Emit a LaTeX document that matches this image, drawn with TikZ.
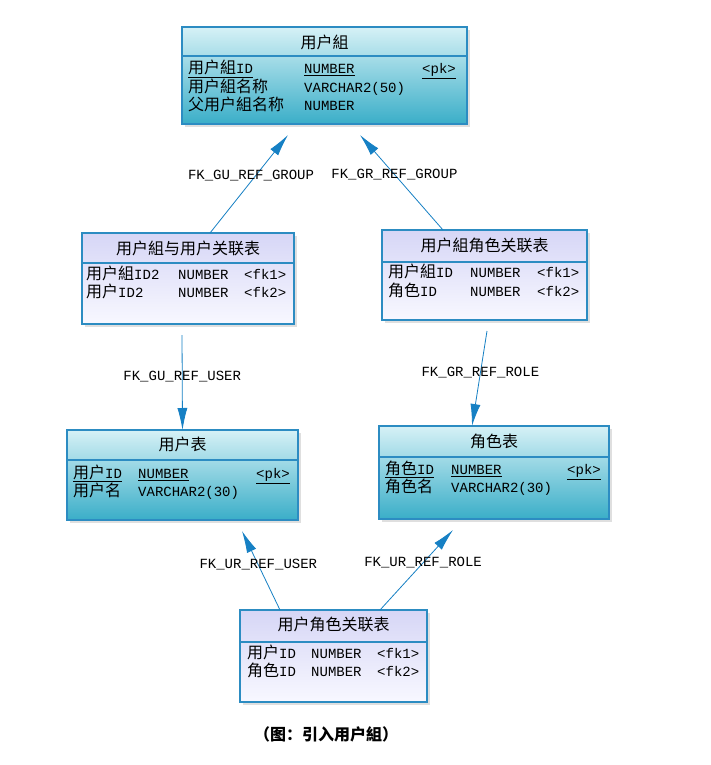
\documentclass[tikz,border=0pt]{standalone}
\usepackage{fontspec}
\setmonofont{Liberation Mono}
\newfontfamily\cjk{Noto Sans CJK SC}
\usetikzlibrary{arrows.meta,shadows}

\definecolor{tealtop}{RGB}{214,241,246}
\definecolor{tealbot}{RGB}{58,174,200}
\definecolor{lavtop}{RGB}{214,214,246}
\definecolor{lavbot}{RGB}{248,248,255}
\definecolor{tblborder}{RGB}{44,140,194}
\definecolor{fkblue}{RGB}{22,128,196}

\newcommand{\zhtxt}[1]{{\cjk\fontsize{16}{18}\selectfont #1}}

\tikzset{
  tbl/.style={rectangle,draw=tblborder,line width=1.1pt,inner sep=0pt,outer sep=0pt,
    top color=tealtop,bottom color=tealbot,
    drop shadow={shadow xshift=3pt,shadow yshift=-3pt,opacity=0.25}},
  tbllav/.style={tbl,top color=lavtop,bottom color=lavbot},
  hdr/.style={draw=tblborder,line width=1.1pt},
  ttl/.style={inner sep=0pt},
  fld/.style={anchor=west,inner sep=0pt,text height=11pt,text depth=3pt,
    font=\ttfamily\fontsize{14}{16}\selectfont},
  fk/.style={every edge/.style={draw,color=fkblue,line width=0.8pt,-{Latex[length=22pt,width=10pt]}}},
  lbl/.style={inner sep=0pt,text=black,font=\ttfamily\fontsize{14}{16}\selectfont}
}

\begin{document}
\begin{tikzpicture}[x=1pt,y=-1pt]
  \useasboundingbox[fill=white] (0,0) rectangle (710,765);

  % user group
  \node[tbl,minimum width=285pt,minimum height=97pt] (ug) at (324.5,75.5) {};
  \draw[hdr] ([yshift=-29pt]ug.north west) -- ([yshift=-29pt]ug.north east);
  \node[ttl] (ugt) at (324.5,42) {\zhtxt{用户組}};
  \node[fld] (ug1n) at (188,70)   {\underline{\zhtxt{用户組}ID}};
  \node[fld] (ug1t) at (304,70)   {\underline{NUMBER}};
  \node[fld] (ug1k) at (422,70)   {\underline{<pk>}};
  \node[fld] (ug2n) at (188,88.5) {\zhtxt{用户組名称}};
  \node[fld] (ug2t) at (304,88.5) {VARCHAR2(50)};
  \node[fld] (ug3n) at (188,107)  {\zhtxt{父用户組名称}};
  \node[fld] (ug3t) at (304,107)  {NUMBER};

  % group - user
  \node[tbllav,minimum width=212pt,minimum height=91pt] (ugu) at (188,278.5) {};
  \draw[hdr] ([yshift=-30pt]ugu.north west) -- ([yshift=-30pt]ugu.north east);
  \node[ttl] (ugut) at (188,248) {\zhtxt{用户組与用户关联表}};
  \node[fld] (ugu1n) at (86,275)    {\zhtxt{用户組}ID2};
  \node[fld] (ugu1t) at (178,275)   {NUMBER};
  \node[fld] (ugu1k) at (244,275)   {<fk1>};
  \node[fld] (ugu2n) at (86,293.5)  {\zhtxt{用户}ID2};
  \node[fld] (ugu2t) at (178,293.5) {NUMBER};
  \node[fld] (ugu2k) at (244,293.5) {<fk2>};

  % group - role
  \node[tbllav,minimum width=205pt,minimum height=90pt] (ugr) at (484.5,275) {};
  \draw[hdr] ([yshift=-32pt]ugr.north west) -- ([yshift=-32pt]ugr.north east);
  \node[ttl] (ugrt) at (484.5,245) {\zhtxt{用户組角色关联表}};
  \node[fld] (ugr1n) at (388,273.5) {\zhtxt{用户組}ID};
  \node[fld] (ugr1t) at (470,273.5) {NUMBER};
  \node[fld] (ugr1k) at (537,273.5) {<fk1>};
  \node[fld] (ugr2n) at (388,292.5) {\zhtxt{角色}ID};
  \node[fld] (ugr2t) at (470,292.5) {NUMBER};
  \node[fld] (ugr2k) at (537,292.5) {<fk2>};

  % user
  \node[tbl,minimum width=231pt,minimum height=90pt] (usr) at (182.5,475) {};
  \draw[hdr] ([yshift=-30pt]usr.north west) -- ([yshift=-30pt]usr.north east);
  \node[ttl] (usrt) at (182.5,444) {\zhtxt{用户表}};
  \node[fld] (usr1n) at (73,474.5)  {\underline{\zhtxt{用户}ID}};
  \node[fld] (usr1t) at (138,474.5) {\underline{NUMBER}};
  \node[fld] (usr1k) at (256,474.5) {\underline{<pk>}};
  \node[fld] (usr2n) at (73,492.5)  {\zhtxt{用户名}};
  \node[fld] (usr2t) at (138,492.5) {VARCHAR2(30)};

  % role
  \node[tbl,minimum width=230pt,minimum height=93pt] (role) at (494,472.5) {};
  \draw[hdr] ([yshift=-31pt]role.north west) -- ([yshift=-31pt]role.north east);
  \node[ttl] (rolet) at (494,441) {\zhtxt{角色表}};
  \node[fld] (role1n) at (385,470.5) {\underline{\zhtxt{角色}ID}};
  \node[fld] (role1t) at (451,470.5) {\underline{NUMBER}};
  \node[fld] (role1k) at (567,470.5) {\underline{<pk>}};
  \node[fld] (role2n) at (385,488.5) {\zhtxt{角色名}};
  \node[fld] (role2t) at (451,488.5) {VARCHAR2(30)};

  % user - role
  \node[tbllav,minimum width=187pt,minimum height=92pt] (ur) at (333.5,656) {};
  \draw[hdr] ([yshift=-32pt]ur.north west) -- ([yshift=-32pt]ur.north east);
  \node[ttl] (urt) at (333.5,624) {\zhtxt{用户角色关联表}};
  \node[fld] (ur1n) at (247,654.5) {\zhtxt{用户}ID};
  \node[fld] (ur1t) at (311,654.5) {NUMBER};
  \node[fld] (ur1k) at (377,654.5) {<fk1>};
  \node[fld] (ur2n) at (247,672.5) {\zhtxt{角色}ID};
  \node[fld] (ur2t) at (311,672.5) {NUMBER};
  \node[fld] (ur2k) at (377,672.5) {<fk2>};

  % free ends
  \coordinate (gug) at (288,135);
  \coordinate (grg) at (360,135);
  \coordinate (guu) at (182,335);
  \coordinate (grr) at (487,331);
  \coordinate (uru) at (242,531);
  \coordinate (urr) at (453,530);

  \path[fk]
    ([xshift=128pt]ugu.north west) edge node[lbl,pos=0.59,xshift=-5pt] {FK\_GU\_REF\_GROUP} (gug)
    ([xshift=61pt]ugr.north west)  edge node[lbl,pos=0.585]            {FK\_GR\_REF\_GROUP} (grg)
    (guu)                          edge node[lbl,pos=0.44]             {FK\_GU\_REF\_USER}  (usr.north)
    (grr)                          edge node[lbl,pos=0.44]             {FK\_GR\_REF\_ROLE}  ([xshift=-22pt]role.north)
    ([xshift=40pt]ur.north west)   edge node[lbl,pos=0.57]             {FK\_UR\_REF\_USER}  (uru)
    ([xshift=140pt]ur.north west)  edge node[lbl,pos=0.59]             {FK\_UR\_REF\_ROLE}  (urr);

  \node[ttl] (cap) at (326,734) {\cjk\bfseries\fontsize{16}{18}\selectfont （图：引入用户組）};
\end{tikzpicture}
\end{document}
